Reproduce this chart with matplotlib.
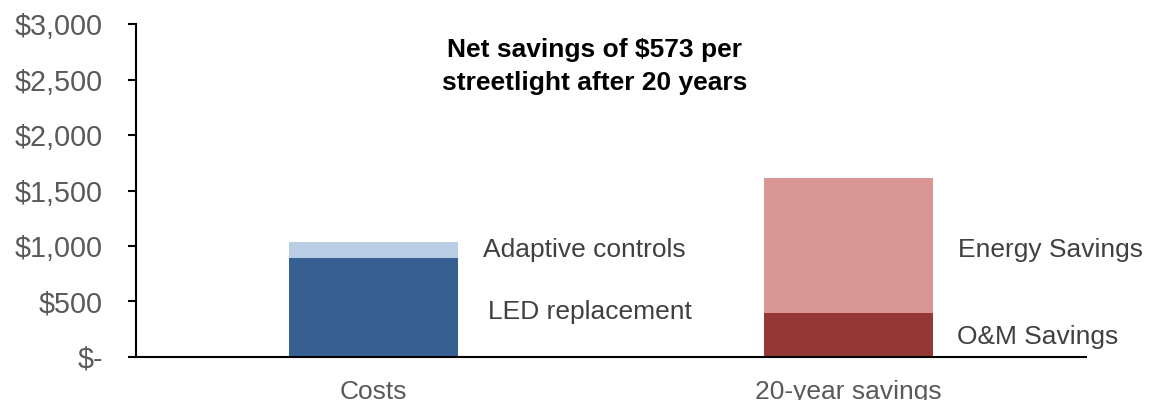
import matplotlib
matplotlib.use("Agg")
import matplotlib.pyplot as plt
from matplotlib.ticker import FuncFormatter

plt.rcParams['font.family'] = ['Liberation Sans', 'DejaVu Sans']

# data
categories = ["Costs", "20-year savings"]
bottom_vals = [890, 393]    # LED replacement, O&M savings
top_vals = [150, 1220]      # Adaptive controls, Energy savings
bottom_colors = ["#376092", "#953735"]
top_colors = ["#B9CDE5", "#D99694"]
bottom_labels = ["LED replacement", "O&M Savings"]
top_labels = ["Adaptive controls", "Energy Savings"]
y_ticks = [0, 500, 1000, 1500, 2000, 2500, 3000]

fig = plt.figure(figsize=(11.53, 4.0), dpi=100)
ax = fig.add_axes([0.118, 0.108, 0.824, 0.831])

x = list(range(len(categories)))
ax.bar(x, bottom_vals, width=0.356, color=bottom_colors)
ax.bar(x, top_vals, width=0.356, bottom=bottom_vals, color=top_colors)

ax.set_xlim(-0.5, 1.5)
ax.set_ylim(0, 3000)
ax.set_yticks(y_ticks)


def money(v, pos):
    if v == 0:
        return "$-"
    return "${:,.0f}".format(v)


ax.yaxis.set_major_formatter(FuncFormatter(money))
ax.set_xticks(x)
ax.set_xticklabels(categories)

ax.spines['top'].set_visible(False)
ax.spines['right'].set_visible(False)
ax.spines['left'].set_linewidth(1.5)
ax.spines['bottom'].set_linewidth(1.5)
ax.tick_params(axis='y', length=6, width=1.5, pad=18, labelsize=20.7, labelcolor='#595959')
ax.tick_params(axis='x', length=0, pad=17, labelsize=19, labelcolor='#595959')

# segment labels beside each bar
ax.text(0.2305, 960, top_labels[0], fontsize=19, color='#404040', va='center')
ax.text(0.241, 405, bottom_labels[0], fontsize=19, color='#404040', va='center')
ax.text(1.2305, 960, top_labels[1], fontsize=19, color='#404040', va='center')
ax.text(1.228, 175, bottom_labels[1], fontsize=19, color='#404040', va='center')

ax.text(0.466, 2620, "Net savings of $573 per\nstreetlight after 20 years",
        fontsize=19, fontweight='bold', color='black', ha='center', va='center',
        linespacing=1.45)

fig.savefig("out.png", dpi=100)
